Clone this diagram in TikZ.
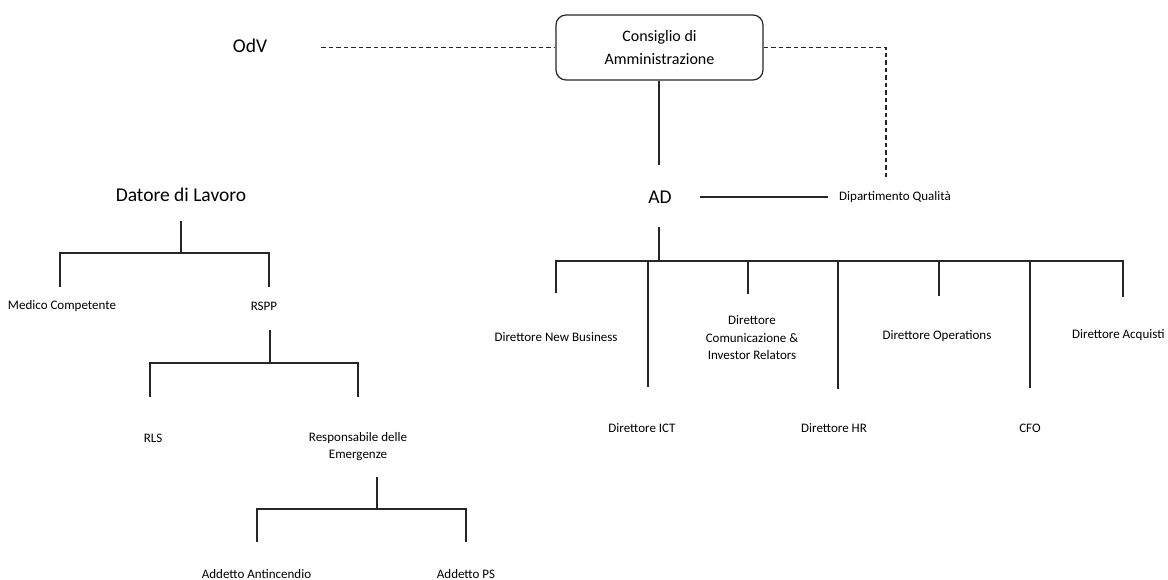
\documentclass[tikz,border=0pt]{standalone}
\usepackage{fontspec}
\setmainfont{Carlito}
\begin{document}
\tikzset{
  ln/.style={line width=1.2pt, draw=black!85},
  dsh/.style={line width=1.2pt, draw=black!85, dash pattern=on 4.5pt off 3pt},
  big/.style={font=\fontsize{19.5}{23}\selectfont, inner sep=0pt},
  mid/.style={font=\fontsize{16}{23}\selectfont, align=center, inner sep=0pt},
  sm/.style={font=\fontsize{13}{17.5}\selectfont, inner sep=0pt, align=center},
}
\begin{tikzpicture}[x=1pt,y=-1pt]
\useasboundingbox (0,0) rectangle (1168,580);

% top
\node[ln, draw, rounded corners=10pt, minimum width=207pt, minimum height=65pt, mid] (cda) at (659.5,47.5) {Consiglio di\\Amministrazione};
\node[big] (odv) at (250,46) {OdV};
\node[big] (ad) at (660,197) {AD};
\node[sm, anchor=west] (dq) at (839,197) {Dipartimento Qualità};
\coordinate (adtop) at (659,165);
\coordinate (qtop) at (886,180);

\draw[dsh] ([xshift=54pt]odv.east |- cda.west) -- (cda.west);
\draw[dsh] (cda.east) -- (cda.east -| qtop) -- (qtop);
\draw[ln] (cda.south -| adtop) -- (adtop);
\draw[ln] ([xshift=28.5pt]ad.east) -- ([xshift=-11pt]dq.west);

% left tree
\node[big] (dl) at (181,195) {Datore di Lavoro};
\node[sm] (mc) at (62,306) {Medico Competente};
\node[sm] (rspp) at (264,306) {RSPP};
\coordinate (j1) at (181,253);
\coordinate (mcD) at (60,287);
\coordinate (rsD) at (269,287);
\draw[ln] (dl) ++(0,26) -- (j1);
\draw[ln] (mcD) |- (j1) -| (rsD);

\node[sm] (rls) at (153,438) {RLS};
\node[sm] (re) at (358,446.5) {Responsabile delle\\Emergenze};
\coordinate (j2) at (270,363);
\coordinate (rlsD) at (150,397);
\coordinate (reD) at (358,397);
\draw[ln] (rspp) ++(6,24) -- (j2);
\draw[ln] (rlsD) |- (j2) -| (reD);

\node[sm] (aa) at (256.5,574) {Addetto Antincendio};
\node[sm] (ap) at (466,574) {Addetto PS};
\coordinate (j3) at (377,509);
\coordinate (aaD) at (257,542);
\coordinate (apD) at (466,542);
\draw[ln] (re) ++(19,30.5) -- (j3);
\draw[ln] (aaD) |- (j3) -| (apD);

% right tree
\node[sm] (nb) at (556,337) {Direttore New Business};
\node[sm] (ict) at (642,428) {Direttore ICT};
\node[sm] (com) at (752,338) {Direttore\\Comunicazione \&\\Investor Relators};
\node[sm] (hr) at (834,428) {Direttore HR};
\node[sm] (op) at (937,336) {Direttore Operations};
\node[sm] (cfo) at (1030,428) {CFO};
\node[sm, anchor=west] (acq) at (1072,335) {Direttore Acquisti};
\coordinate (j4) at (659,261);
\coordinate (nbD) at (556,293);
\coordinate (ictD) at (648,387);
\coordinate (comD) at (748,294);
\coordinate (hrD) at (838,389);
\coordinate (opD) at (939,296);
\coordinate (cfoD) at (1030,388);
\coordinate (acD) at (1123,297);
\draw[ln] (ad) ++(-1,30) -- (j4);
\draw[ln] (nbD) |- (j4) -| (acD);
\draw[ln] (ictD) -- (ictD |- j4);
\draw[ln] (comD) -- (comD |- j4);
\draw[ln] (hrD) -- (hrD |- j4);
\draw[ln] (opD) -- (opD |- j4);
\draw[ln] (cfoD) -- (cfoD |- j4);
\end{tikzpicture}
\end{document}
